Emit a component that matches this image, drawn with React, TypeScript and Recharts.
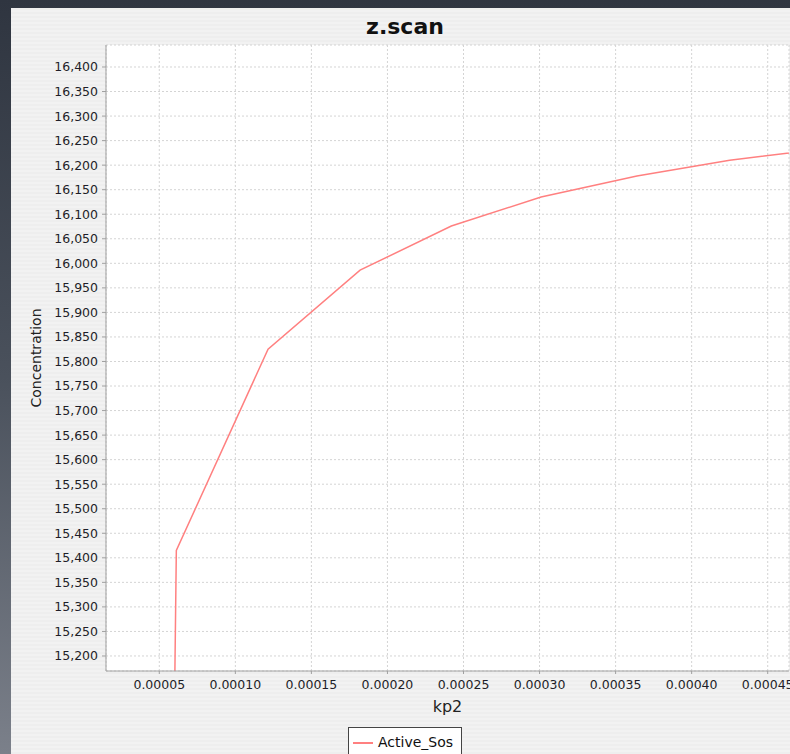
import { LineChart, Line, XAxis, YAxis, CartesianGrid, ReferenceArea } from "recharts";

// kp2 scan values
const kp2 = [0.0000598, 0.0000612, 0.0001215, 0.000182, 0.000242, 0.000301, 0.000364, 0.000425, 0.000486];
const activeSos = [15050, 15415, 15825, 15986, 16076, 16135, 16178, 16210, 16233];

const xTicks = [0.00005, 0.0001, 0.00015, 0.0002, 0.00025, 0.0003, 0.00035, 0.0004, 0.00045];
const yTicks = [
  15200, 15250, 15300, 15350, 15400, 15450, 15500, 15550, 15600, 15650, 15700, 15750, 15800,
  15850, 15900, 15950, 16000, 16050, 16100, 16150, 16200, 16250, 16300, 16350, 16400,
];

const data = kp2.map((x, i) => ({ kp2: x, Active_Sos: activeSos[i] }));

const font = "'DejaVu Sans', sans-serif";
const lineColor = "#ff8080";

export default function App() {
  return (
    <div
      style={{
        position: "fixed",
        left: 0,
        top: 0,
        width: 790,
        height: 754,
        overflow: "hidden",
        background: "linear-gradient(#2f3540, #4a515c 50%, #7b808a)",
        fontFamily: font,
      }}
    >
      <div
        style={{
          position: "absolute",
          left: 11,
          top: 8,
          width: 779,
          height: 746,
          background: "repeating-linear-gradient(#eeeeee 0px, #eeeeee 2px, #f2f2f2 2px, #f2f2f2 4px)",
        }}
      >
        <LineChart width={779} height={746} data={data} margin={{ top: 37, right: 1, bottom: 11, left: 0 }}>
          <CartesianGrid stroke="#d4d4d4" strokeDasharray="2 2" fill="#ffffff" />
          <ReferenceArea fill="none" stroke="#a0a0a0" strokeWidth={1} ifOverflow="visible" />
          <XAxis
            dataKey="kp2"
            type="number"
            domain={[0.00001496, 0.000464]}
            allowDataOverflow
            ticks={xTicks}
            tickFormatter={(v: number) => v.toFixed(5)}
            height={72}
            stroke="#a0a0a0"
            tickSize={3}
            tickMargin={6}
            tick={{ fill: "#1e1e28", fontSize: 12.5, fontFamily: font }}
            label={{ value: "kp2", position: "center", dy: -1, fill: "#222", fontSize: 16, fontFamily: font }}
          />
          <YAxis
            type="number"
            domain={[15169.4, 16444.8]}
            allowDataOverflow
            ticks={yTicks}
            interval={0}
            tickFormatter={(v: number) => v.toLocaleString("en-US")}
            width={95}
            stroke="#a0a0a0"
            tickSize={4}
            tickMargin={4}
            tick={{ fill: "#1e1e28", fontSize: 12.5, fontFamily: font }}
            label={{ value: "Concentration", angle: -90, position: "center", dx: -22, fill: "#222", fontSize: 14, fontFamily: font }}
          />
          <Line
            type="linear"
            dataKey="Active_Sos"
            stroke={lineColor}
            strokeWidth={1.5}
            dot={false}
            isAnimationActive={false}
          />
        </LineChart>
        <div
          style={{
            position: "absolute",
            left: 0,
            top: 8,
            width: 788,
            textAlign: "center",
            fontWeight: "bold",
            fontSize: 22,
            lineHeight: "22px",
            color: "#111",
          }}
        >
          z.scan
        </div>
        <div
          style={{
            position: "absolute",
            left: 337,
            top: 719,
            width: 114,
            height: 40,
            border: "1px solid #444",
            background: "#fff",
            boxSizing: "border-box",
          }}
        >
          <div style={{ position: "absolute", left: 4, top: 14, width: 20, height: 1.5, background: lineColor }} />
          <div style={{ position: "absolute", left: 29, top: 5, fontSize: 14, lineHeight: "18px", color: "#111" }}>
            Active_Sos
          </div>
        </div>
      </div>
    </div>
  );
}
